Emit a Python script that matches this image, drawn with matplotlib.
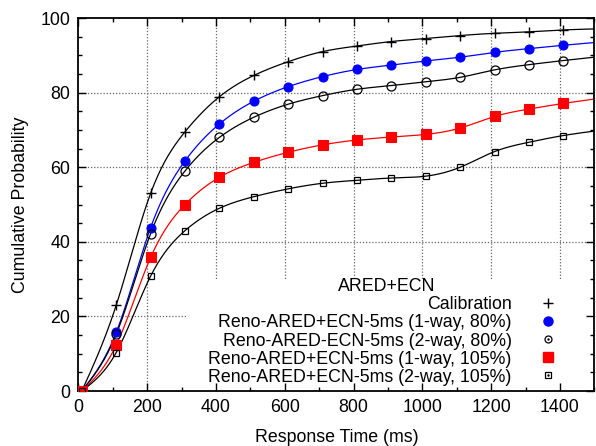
import numpy as np
import matplotlib
matplotlib.use("Agg")
import matplotlib.pyplot as plt
from matplotlib.lines import Line2D
from matplotlib.patches import Rectangle
from matplotlib.legend_handler import HandlerTuple

plt.rcParams['font.family'] = ['Liberation Sans', 'DejaVu Sans']
plt.rcParams['font.size'] = 12.8

# -------------------------------
# Data (response time in ms, cumulative %)
# last point (1510) only carries the curve to the right edge
# -------------------------------
resp_time = [10, 110, 210, 310, 410, 510, 610, 710, 810, 910, 1010, 1110, 1210, 1310, 1410, 1510]

calibration = [0, 23.0, 53.0, 69.5, 78.9, 84.6, 88.3, 91.0, 92.5, 93.7, 94.5, 95.3, 95.9, 96.3, 96.8, 97.1]
oneway_80 = [0, 15.7, 43.8, 61.7, 71.6, 77.7, 81.6, 84.3, 86.2, 87.4, 88.5, 89.5, 90.8, 91.8, 92.7, 93.5]
twoway_80 = [0, 15.2, 42.2, 59.0, 68.0, 73.4, 76.9, 79.2, 80.9, 81.9, 82.9, 84.1, 86.1, 87.5, 88.6, 89.6]
oneway_105 = [0, 12.3, 35.8, 50.0, 57.3, 61.3, 64.0, 66.0, 67.3, 68.1, 68.8, 70.5, 73.6, 75.6, 77.1, 78.4]
twoway_105 = [0, 10.3, 30.8, 43.0, 49.0, 52.1, 54.2, 55.7, 56.5, 57.1, 57.6, 60.0, 64.2, 66.7, 68.5, 69.8]

labels = ["Calibration",
          "Reno-ARED+ECN-5ms (1-way, 80%)",
          "Reno-ARED-ECN-5ms (2-way, 80%)",
          "Reno-ARED+ECN-5ms (1-way, 105%)",
          "Reno-ARED+ECN-5ms (2-way, 105%)"]


def natural_spline(x, y, xs):
    # natural cubic spline, like gnuplot's "smooth csplines"
    x = np.asarray(x, float)
    y = np.asarray(y, float)
    n = len(x)
    h = np.diff(x)
    A = np.zeros((n, n))
    b = np.zeros(n)
    A[0, 0] = 1
    A[-1, -1] = 1
    for i in range(1, n - 1):
        A[i, i - 1] = h[i - 1]
        A[i, i] = 2 * (h[i - 1] + h[i])
        A[i, i + 1] = h[i]
        b[i] = 3 * ((y[i + 1] - y[i]) / h[i] - (y[i] - y[i - 1]) / h[i - 1])
    c = np.linalg.solve(A, b)
    idx = np.clip(np.searchsorted(x, xs) - 1, 0, n - 2)
    dx = xs - x[idx]
    bb = (y[idx + 1] - y[idx]) / h[idx] - h[idx] * (2 * c[idx] + c[idx + 1]) / 3
    d = (c[idx + 1] - c[idx]) / (3 * h[idx])
    return y[idx] + bb * dx + c[idx] * dx ** 2 + d * dx ** 3


fig = plt.figure(figsize=(5.96, 4.46), dpi=100)
ax = fig.add_axes([0.1315, 0.1233, 0.8658, 0.8363])

# dotted grid, drawn by hand so the key box can hide part of it
for gx in range(200, 1500, 200):
    ax.axvline(gx, color='0.4', lw=0.9, ls=(0, (1, 1.5)), zorder=0.5)
for gy in range(20, 100, 20):
    ax.axhline(gy, color='0.4', lw=0.9, ls=(0, (1, 1.5)), zorder=0.5)

# white key area over the grid
ax.add_patch(Rectangle((0.2085, 0.0), 0.80, 0.30, transform=ax.transAxes,
                       facecolor='white', edgecolor='none', zorder=1))

xs = np.linspace(resp_time[0], resp_time[-1], 600)
npts = len(resp_time) - 1

series = [
    (calibration, dict(color='black', marker='+', ms=7.5, mew=1.0, mfc='none')),
    (oneway_80, dict(color='blue', marker='o', ms=6.5, mew=0.8, mfc='blue')),
    (twoway_80, dict(color='black', marker='o', ms=6.5, mew=0.9, mfc='none')),
    (oneway_105, dict(color='red', marker='s', ms=6.5, mew=0.8, mfc='red')),
    (twoway_105, dict(color='black', marker='s', ms=4.2, mew=0.9, mfc='none')),
]

for vals, style in series:
    ax.plot(xs, natural_spline(resp_time, vals, xs), color=style['color'], lw=0.9, zorder=2)
    ax.plot(resp_time, vals, ls='none', markevery=range(npts), zorder=3, **style)

ax.set_xlim(0, 1500)
ax.set_ylim(0, 100)
ax.set_xticks(range(0, 1500, 200))
ax.set_xticks(range(0, 1501, 100), minor=True)
ax.set_yticks(range(0, 101, 20))
ax.set_yticks(range(0, 101, 5), minor=True)
ax.tick_params(which='both', direction='in', top=True, right=True, width=1.0)
ax.tick_params(which='major', length=6, pad=6)
ax.tick_params(which='minor', length=3)
for sp in ax.spines.values():
    sp.set_linewidth(1.3)

ax.set_xlabel("Response Time (ms)", labelpad=9)
ax.set_ylabel("Cumulative Probability", labelpad=8)

# key: text right aligned, marker after the text
handles = [
    Line2D([], [], ls='none', color='black', marker='+', ms=7, mew=1.0),
    Line2D([], [], ls='none', color='blue', marker='o', ms=6.5, mfc='blue'),
    (Line2D([], [], ls='none', color='black', marker='o', ms=5, mfc='none', mew=0.9),
     Line2D([], [], ls='none', color='black', marker='.', ms=1.5)),
    Line2D([], [], ls='none', color='red', marker='s', ms=6.5, mfc='red'),
    (Line2D([], [], ls='none', color='black', marker='s', ms=4.2, mfc='none', mew=0.9),
     Line2D([], [], ls='none', color='black', marker='.', ms=1.5)),
]
leg = ax.legend(handles, labels, title="ARED+ECN", loc='lower right',
                bbox_to_anchor=(0.955, 0.0), borderaxespad=0.1, frameon=False,
                markerfirst=False, labelspacing=0.06, handlelength=2.0,
                handletextpad=1.05, fontsize=12.8, title_fontsize=12.8,
                borderpad=0.2, handler_map={tuple: HandlerTuple(ndivide=1)})
leg.set_zorder(5)

fig.savefig("out.png", dpi=100)
